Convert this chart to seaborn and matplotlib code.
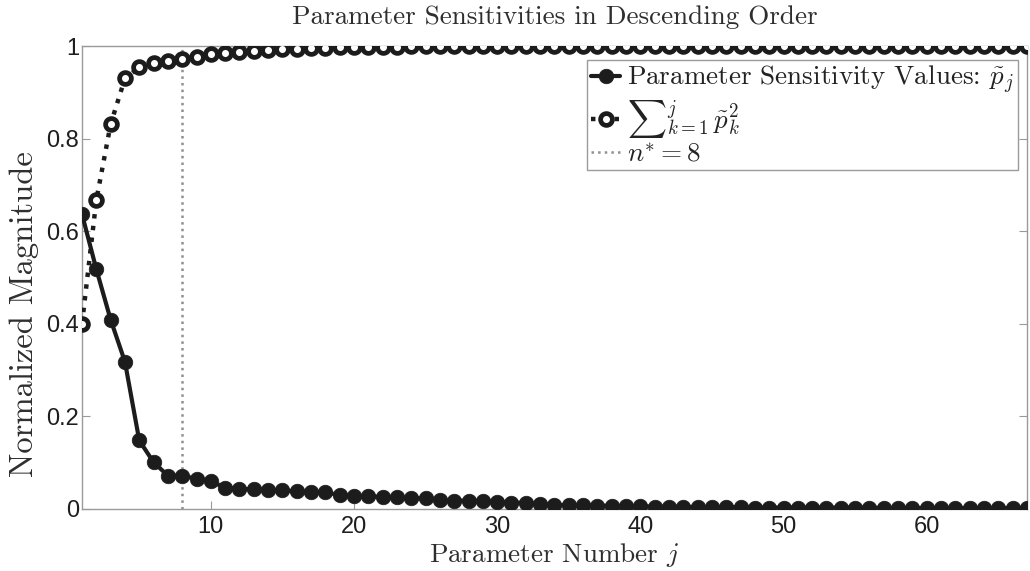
import numpy as np
import matplotlib
matplotlib.use("Agg")
import matplotlib.pyplot as plt
import seaborn as sns

# Parameter index j = 1..67
param_number = np.arange(1, 68)

# Normalized sensitivity of each parameter, sorted in descending order
sensitivity = [
    0.637, 0.518, 0.409, 0.318, 0.148, 0.101, 0.072, 0.072, 0.065, 0.060,
    0.046, 0.043, 0.043, 0.041, 0.040, 0.038, 0.037, 0.036, 0.030, 0.028,
    0.027, 0.026, 0.025, 0.023, 0.023, 0.019, 0.018, 0.018, 0.017, 0.016,
    0.014, 0.013, 0.010, 0.009, 0.008, 0.008, 0.007, 0.007, 0.006, 0.006,
    0.005, 0.005, 0.005, 0.004, 0.004, 0.004, 0.004, 0.003, 0.003, 0.003,
    0.003, 0.003, 0.003, 0.003, 0.003, 0.003, 0.002, 0.002, 0.002, 0.002,
    0.002, 0.002, 0.002, 0.002, 0.002, 0.002, 0.002,
]

# Running sum of squared sensitivities
cumulative = [
    0.400, 0.667, 0.831, 0.930, 0.954, 0.963, 0.967, 0.972, 0.977, 0.982,
    0.986, 0.988, 0.990, 0.991, 0.993, 0.994, 0.995, 0.996, 0.997, 0.997,
    0.998, 0.998, 0.998, 0.999, 0.999, 0.999, 0.999, 0.999, 0.999, 0.999,
    1.000, 1.000, 1.000, 1.000, 1.000, 1.000, 1.000, 1.000, 1.000, 1.000,
    1.000, 1.000, 1.000, 1.000, 1.000, 1.000, 1.000, 1.000, 1.000, 1.000,
    1.000, 1.000, 1.000, 1.000, 1.000, 1.000, 1.000, 1.000, 1.000, 1.000,
    1.000, 1.000, 1.000, 1.000, 1.000, 1.000, 1.000,
]

n_star = 8
x_ticks = [10, 20, 30, 40, 50, 60]
y_ticks = [0, 0.2, 0.4, 0.6, 0.8, 1.0]
y_tick_labels = ["0", "0.2", "0.4", "0.6", "0.8", "1"]

label_sens = r"Parameter Sensitivity Values: $\tilde{p}_j$"
label_cum = r"${\sum}_{k=1}^{j}\,\tilde{p}_k^{2}$"
label_nstar = r"$n^{*} = 8$"

sns.set_theme(style="white")
plt.rcParams["mathtext.fontset"] = "cm"
plt.rcParams["font.family"] = ["Liberation Sans", "DejaVu Sans"]

serif = "cmr10"
ink = "#1c1c1c"
axis_grey = "#9a9a9a"
text_dark = "#2e2e2e"

fig = plt.figure(figsize=(10.30, 5.71), dpi=100)
ax = fig.add_axes([0.0796, 0.1086, 0.9174, 0.8108])

ax.axvline(n_star, color="#909090", linestyle=":", linewidth=1.8, zorder=1,
           label=label_nstar)

sns.lineplot(x=param_number, y=sensitivity, ax=ax, color=ink, linewidth=3.0,
             marker="o", markersize=10.5, markeredgecolor=ink,
             markerfacecolor=ink, markeredgewidth=0.5, zorder=3,
             label=label_sens)
sns.lineplot(x=param_number, y=cumulative, ax=ax, color=ink, linewidth=3.2,
             linestyle=":", marker="o", markersize=8.5, markeredgecolor=ink,
             markerfacecolor="white", markeredgewidth=3.4, zorder=4,
             label=label_cum)

ax.set_xlim(1, 67)
ax.set_ylim(0, 1)
ax.set_xticks(x_ticks)
ax.set_yticks(y_ticks)
ax.set_yticklabels(y_tick_labels)

for side in ["left", "right", "top", "bottom"]:
    ax.spines[side].set_visible(True)
    ax.spines[side].set_color(axis_grey)
    ax.spines[side].set_linewidth(1.0)

ax.tick_params(axis="both", which="both", direction="in", length=6,
               width=0.8, color=axis_grey, labelsize=17, labelcolor="#1e1e1e",
               top=True, right=True, bottom=True, left=True)
ax.tick_params(axis="x", pad=5)
ax.tick_params(axis="y", pad=2)

ax.set_title("Parameter Sensitivities in Descending Order", fontfamily=serif,
             fontsize=19.5, color=text_dark, pad=16)
ax.set_xlabel(r"Parameter Number $j$", fontfamily=serif, fontsize=19.5,
              color=text_dark, labelpad=2)
ax.set_ylabel("Normalized Magnitude", fontfamily=serif, fontsize=23.5,
              color=text_dark)
ax.yaxis.set_label_coords(-0.046, 0.42)

handles, labels = ax.get_legend_handles_labels()
order = [labels.index(l) for l in [label_sens, label_cum, label_nstar]]
leg = ax.legend([handles[i] for i in order], [labels[i] for i in order],
                loc="upper right", bbox_to_anchor=(0.9905, 0.97),
                prop={"family": serif, "size": 19.5}, frameon=True,
                fancybox=False, edgecolor=axis_grey, framealpha=1.0,
                handlelength=1.1, handletextpad=0.25, borderpad=0.15,
                labelspacing=0.08, borderaxespad=0.0)
leg.get_frame().set_linewidth(1.0)
for t in leg.get_texts():
    t.set_color("#222222")

fig.savefig("out.png", dpi=100, facecolor="white")
